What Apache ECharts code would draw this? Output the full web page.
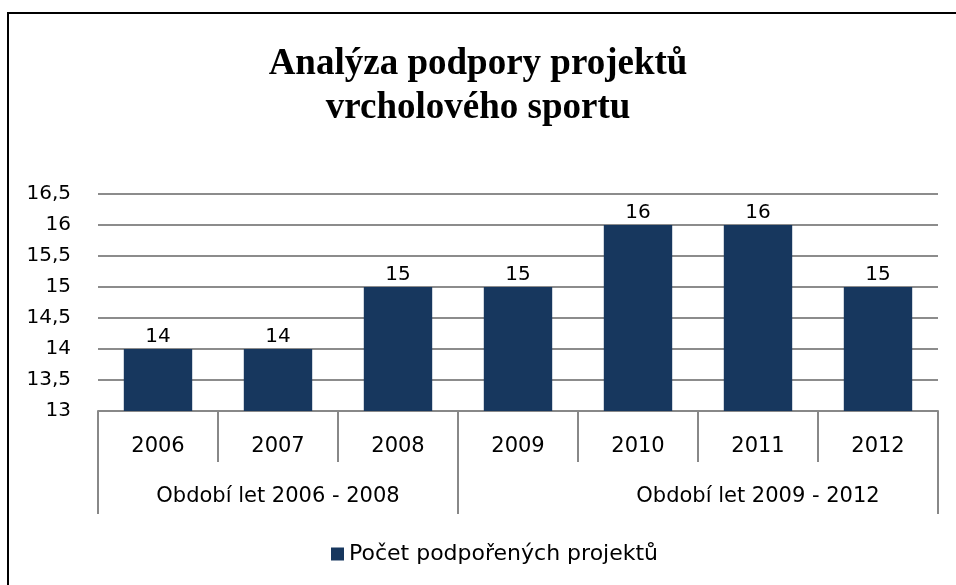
<!DOCTYPE html>
<html>
<head>
<meta charset="utf-8">
<script src="https://cdn.jsdelivr.net/npm/echarts@6/dist/echarts.min.js"></script>
<style>
  html, body { margin: 0; padding: 0; background: #fff; }
  #chart { width: 956px; height: 585px; }
</style>
</head>
<body>
<div id="chart"></div>
<script>
// data
const years = ['2006', '2007', '2008', '2009', '2010', '2011', '2012'];
const projects = [14, 14, 15, 15, 16, 16, 15];
const groups = ['Období let 2006 - 2008', 'Období let 2009 - 2012'];
const groupBounds = [0, 3, 7]; // hranice skupin v počtu kategorií
const groupCenters = [1.5, 5.5];

const chart = echarts.init(document.getElementById('chart'));
const font = '"DejaVu Sans", sans-serif';

const option = {
  animation: false,
  title: {
    text: 'Analýza podpory projektů\nvrcholového sportu',
    left: 'center',
    top: 37,
    textStyle: {
      fontFamily: '"Liberation Serif", "Times New Roman", serif',
      fontWeight: 'bold',
      fontSize: 37,
      lineHeight: 44,
      color: '#000'
    }
  },
  legend: {
    bottom: 15,
    left: 326,
    itemWidth: 13,
    itemHeight: 13,
    itemGap: 6,
    icon: 'rect',
    textStyle: { fontFamily: font, fontSize: 22, color: '#000' },
    data: ['Počet podpořených projektů']
  },
  graphic: [
    {
      type: 'polyline',
      shape: { points: [[8, 585], [8, 13], [956, 13]] },
      style: { stroke: '#000', lineWidth: 2, fill: null }
    }
  ],
  grid: { left: 98, right: 18, top: 194, bottom: 174 },
  xAxis: [
    {
      type: 'category',
      data: years,
      axisLine: { lineStyle: { color: '#888', width: 2 } },
      axisTick: { show: true, interval: 0, length: 51, lineStyle: { color: '#888', width: 2 } },
      axisLabel: { margin: 25, fontFamily: font, fontSize: 21, color: '#000' },
      splitLine: { show: false }
    },
    {
      type: 'value',
      position: 'bottom',
      min: 0,
      max: 7,
      axisLine: { show: false },
      axisTick: {
        show: true,
        customValues: groupBounds,
        length: 103,
        lineStyle: { color: '#888', width: 2 }
      },
      axisLabel: {
        customValues: groupCenters,
        margin: 75,
        fontFamily: font,
        fontSize: 21,
        color: '#000',
        formatter: v => groups[groupCenters.indexOf(v)]
      },
      splitLine: { show: false }
    }
  ],
  yAxis: {
    type: 'value',
    min: 13,
    max: 16.5,
    interval: 0.5,
    axisLine: { show: false },
    axisTick: { show: false },
    axisLabel: {
      margin: 27,
      fontFamily: font,
      fontSize: 20,
      color: '#000',
      formatter: v => String(v).replace('.', ',')
    },
    splitLine: { lineStyle: { color: '#8c8c8c', width: 2 } }
  },
  series: [
    {
      name: 'Počet podpořených projektů',
      type: 'bar',
      xAxisIndex: 0,
      data: projects,
      barWidth: '57%',
      itemStyle: { color: '#17375E' },
      label: {
        show: true,
        position: 'top',
        distance: 2,
        fontFamily: font,
        fontSize: 20,
        color: '#000'
      }
    }
  ]
};

chart.setOption(option);
</script>
</body>
</html>
